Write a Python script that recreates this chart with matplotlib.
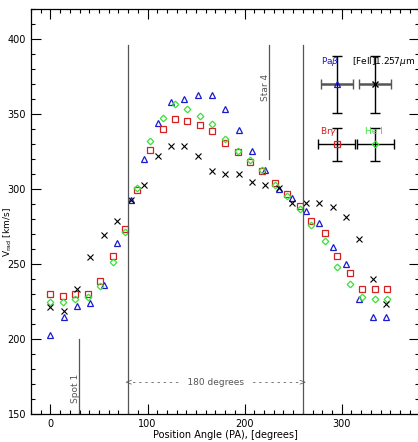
import matplotlib
matplotlib.use("Agg")
from matplotlib import pyplot as plt
import numpy as np

# Pa beta (blue triangles) and [FeII] (black crosses) share position angles
pa_a = [0, 13.7, 27.8, 41, 55.6, 69, 82.6, 96.7, 110.4, 124, 138, 152, 166.3,
        179.7, 193.7, 207.5, 221, 235, 249, 262.7, 276.4, 290.8, 304, 318, 332, 346]
v_pab = [203, 214.7, 221.8, 224, 236, 264, 292.5, 320, 344, 358, 360, 362.7, 362.7,
         353.3, 339.3, 325.3, 313, 300, 294, 285.3, 277.5, 261.5, 250, 226.5, 214.7, 214.7]
v_fe = [221.1, 218.7, 233.1, 254.9, 269.3, 278.7, 292.5, 302.5, 321.8, 328.9, 328.9, 321.8, 312.2,
        309.8, 309.8, 304.9, 302.7, 300.5, 290.9, 290.9, 290.9, 288.2, 281.1, 266.7, 240.2, 223.3]

# Br gamma (red squares) and He I (green diamonds) share position angles
pa_b = [0, 12.7, 25.7, 38.4, 51, 64, 77, 89.5, 102.5, 115.5, 128.3, 141, 154, 166.7,
        179.7, 192.7, 205.8, 218.4, 231, 244, 256.7, 268.5, 283, 295.6, 308.6, 321.3, 334, 347]
v_brg = [230.2, 228.7, 230.2, 230.2, 238.7, 255.3, 273.3, 299.3, 326, 340, 347, 345.5, 343, 338.9,
         330.4, 324.9, 317.8, 312.2, 304, 296.7, 288.7, 279, 270.4, 255.3, 244.2, 233.1, 233.1, 233.1]
v_he = [224.9, 224.9, 226.5, 227.8, 235.1, 251.1, 271.3, 300.4, 331.8, 347.5, 356.5, 353.5, 349, 343.3,
        333.1, 325.5, 319.3, 312.7, 302.7, 295.5, 286.5, 276, 265.5, 248.2, 236.7, 227.8, 226.5, 226.5]

# typical error bars shown in the upper right
err_pa = [295, 334.7, 295, 334.7]
err_v = [370, 370, 330, 330]
err_x = [16.5, 16.5, 19, 19]
err_y = [19, 19, 11, 11]

BLUE = "#1a1ad0"
RED = "#d42020"
GREEN = "#3ae03a"
GREY = "#555555"

fig = plt.figure(figsize=(4.18, 4.42), dpi=100)
ax = fig.add_axes([31 / 418, 28 / 442, 388.4 / 418, 405 / 442])

ms = 4.2
ax.plot(pa_a, v_pab, "^", ms=ms, mfc="none", mec=BLUE, mew=0.9, ls="none")
ax.plot(pa_b, v_brg, "s", ms=ms, mfc="none", mec=RED, mew=0.9, ls="none")
ax.plot(pa_b, v_he, "D", ms=ms * 0.8, mfc="none", mec=GREEN, mew=0.9, ls="none")
ax.plot(pa_a, v_fe, "x", ms=ms, color="black", mew=0.8, ls="none")

# vertical reference lines
ax.plot([80, 80], [150, 396], color=GREY, lw=0.9)
ax.plot([260, 260], [150, 396], color=GREY, lw=0.9)
ax.plot([225, 225], [320, 396], color=GREY, lw=0.9)
ax.plot([29, 29], [150, 200], color=GREY, lw=0.9)
ax.text(222, 368, "Star 4", rotation=90, ha="center", va="center", fontsize=6.5, color=GREY)
ax.text(25.5, 167, "Spot 1", rotation=90, ha="center", va="center", fontsize=6.5, color=GREY)
ax.text(170, 171, "<- - - - - - - -   180 degrees   - - - - - - - ->", ha="center", va="center",
        fontsize=6.5, color=GREY)

# error bar crosses
for i in range(4):
    hcol = GREY if i < 2 else "black"
    hlw = 1.8 if i < 2 else 1.0
    ax.errorbar(err_pa[i], err_v[i], xerr=err_x[i], fmt="none", ecolor=hcol, elinewidth=hlw,
                capsize=3.5, capthick=1.0)
    ax.errorbar(err_pa[i], err_v[i], yerr=err_y[i], fmt="none", ecolor="black", elinewidth=1.0,
                capsize=3.5, capthick=1.0)
ax.plot(err_pa[0], err_v[0], "^", ms=ms, mfc="none", mec=BLUE, mew=0.9)
ax.plot(err_pa[1], err_v[1], "x", ms=ms, color="black", mew=1.0)
ax.plot(err_pa[2], err_v[2], "s", ms=ms, mfc="none", mec=RED, mew=0.9)
ax.plot(err_pa[3], err_v[3], "D", ms=ms * 0.8, mfc="none", mec=GREEN, mew=0.9)

ax.text(279, 385, r"Pa$\beta$", color=BLUE, fontsize=6.5, ha="left", va="center")
ax.text(311, 385, r"[FeII]1.257$\mu$m", color="black", fontsize=6.5, ha="left", va="center")
ax.text(278, 338, r"Br$\gamma$", color=RED, fontsize=6.5, ha="left", va="center")
ax.text(324, 338, "He I", color=GREEN, fontsize=6.5, ha="left", va="center")

ax.set_xlim(-20, 380)
ax.set_ylim(150, 420)
ax.set_xticks([0, 100, 200, 300])
ax.set_xticks(np.arange(-20, 381, 10), minor=True)
ax.set_yticks([150, 200, 250, 300, 350, 400])
ax.set_yticks(np.arange(150, 421, 10), minor=True)
ax.tick_params(which="both", direction="in", top=True, right=True, labelsize=7, width=0.8)
ax.tick_params(which="major", length=7)
ax.tick_params(which="minor", length=3)
for s in ax.spines.values():
    s.set_linewidth(0.9)

ax.set_xlabel("Position Angle (PA), [degrees]", fontsize=7, labelpad=1)
ax.set_ylabel(r"V$_{\rm rad}$ [km/s]", fontsize=6.5)
ax.yaxis.set_label_coords(-0.043, 0.45)

fig.savefig("out.png", dpi=100)
